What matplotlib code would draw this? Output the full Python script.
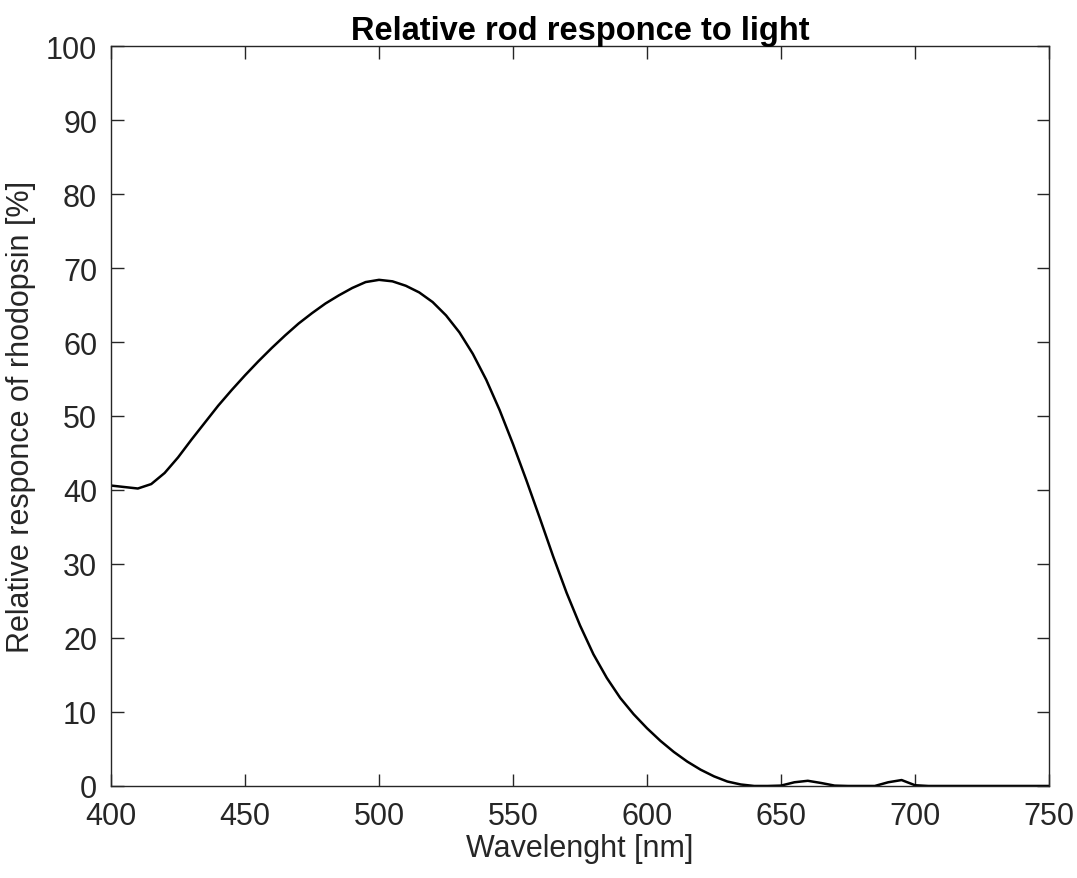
import matplotlib

matplotlib.use("Agg")
import matplotlib.pyplot as plt

# wavelength [nm] and relative rhodopsin response [%]
wavelength = [400, 405, 410, 415, 420, 425, 430, 435, 440, 445, 450, 455, 460, 465,
              470, 475, 480, 485, 490, 495, 500, 505, 510, 515, 520, 525, 530, 535,
              540, 545, 550, 555, 560, 565, 570, 575, 580, 585, 590, 595, 600, 605,
              610, 615, 620, 625, 630, 635, 640, 645, 650, 655, 660, 665, 670, 675,
              680, 685, 690, 695, 700, 705, 710, 750]
response = [40.6, 40.4, 40.2, 40.8, 42.3, 44.4, 46.8, 49.1, 51.4, 53.5, 55.5, 57.4, 59.2, 60.9,
            62.5, 63.9, 65.2, 66.3, 67.3, 68.1, 68.4, 68.2, 67.6, 66.7, 65.4, 63.6, 61.3, 58.4,
            54.9, 50.8, 46.2, 41.3, 36.2, 31.0, 26.1, 21.7, 17.8, 14.6, 11.9, 9.7, 7.8, 6.1,
            4.6, 3.3, 2.2, 1.3, 0.6, 0.2, 0.0, 0.0, 0.05, 0.5, 0.7, 0.4, 0.05, 0.0,
            0.0, 0.0, 0.5, 0.8, 0.1, 0.0, 0.0, 0.0]

x_ticks = list(range(400, 751, 50))
y_ticks = list(range(0, 101, 10))

plt.rcParams["font.family"] = ["Liberation Sans", "DejaVu Sans"]

figure = plt.figure(figsize=(10.77, 8.79), dpi=100)
axis = figure.add_axes([0.1031, 0.1047, 0.8709, 0.8418])
axis.plot(wavelength, response, color="black", linewidth=1.8)

axis.set_xlim(400, 750)
axis.set_ylim(0, 100)
axis.set_xticks(x_ticks)
axis.set_yticks(y_ticks)
axis.tick_params(direction="in", length=9, width=1.0, top=True, right=True,
                 labelsize=22, colors="#262626")
axis.tick_params(axis="x", pad=11)
axis.tick_params(axis="y", pad=10)
for spine in axis.spines.values():
    spine.set_color("#262626")
    spine.set_linewidth(1.0)

axis.set_xlabel("Wavelenght [nm]", fontsize=22, color="#262626", labelpad=1)
axis.set_ylabel("Relative responce of rhodopsin [%]", fontsize=22, color="#262626", labelpad=7)
axis.set_title("Relative rod responce to light", fontsize=23.5, fontweight="bold", pad=5)

figure.savefig("out.png", dpi=100)
plt.close(figure)
